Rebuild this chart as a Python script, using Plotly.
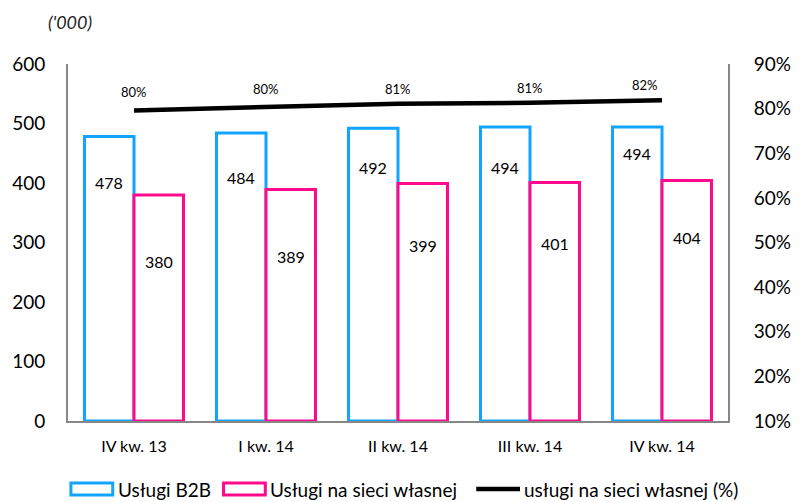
import plotly.graph_objects as go

# Quarterly data (thousands of services) and share of own-network services
quarters = ["IV kw. 13", "I kw. 14", "II kw. 14", "III kw. 14", "IV kw. 14"]
b2b = [478, 484, 492, 494, 494]
own_network = [380, 389, 399, 401, 404]
own_share_pct = [79.6, 80.4, 81.1, 81.3, 81.9]

series_names = ["Usługi B2B", "Usługi na sieci własnej",
                "usługi na sieci własnej (%)"]

# Vertical offsets (px) of value labels below the bar tops
b2b_label_drop = [46, 44, 39, 40, 26]
own_label_drop = [67, 67, 62, 61, 57]

BLUE = "#12A4FF"
PINK = "#FF0A8C"
AXIS_GREY = "#878787"
FONT = "Lato"

W, H = 803, 502
M_L, M_R, M_T, M_B = 63, 61, 64, 81
PLOT_W = W - M_L - M_R
PLOT_H = H - M_T - M_B


def px(xp):
    """Page x pixel -> paper x."""
    return (xp - M_L) / PLOT_W


def py(yp):
    """Page y pixel -> paper y."""
    return (H - M_B - yp) / PLOT_H


fig = go.Figure()

fig.add_trace(go.Bar(
    x=quarters, y=b2b, name=series_names[0],
    marker=dict(color="white", line=dict(color=BLUE, width=3)),
    offsetgroup="a", showlegend=False,
))
fig.add_trace(go.Bar(
    x=quarters, y=own_network, name=series_names[1],
    marker=dict(color="white", line=dict(color=PINK, width=3)),
    offsetgroup="b", showlegend=False,
))
fig.add_trace(go.Scatter(
    x=quarters, y=own_share_pct, name=series_names[2],
    mode="lines", line=dict(color="black", width=4.5), yaxis="y2",
    showlegend=False,
))

annotations = []
# value labels inside the bars and above the line
for i, q in enumerate(quarters):
    annotations.append(dict(
        x=q, y=b2b[i], xref="x", yref="y", text=str(b2b[i]),
        showarrow=False, xshift=-25, yshift=-b2b_label_drop[i],
        font=dict(family=FONT, size=16, color="black"),
    ))
    annotations.append(dict(
        x=q, y=own_network[i], xref="x", yref="y", text=str(own_network[i]),
        showarrow=False, xshift=25, yshift=-own_label_drop[i],
        font=dict(family=FONT, size=16, color="black"),
    ))
    annotations.append(dict(
        x=q, y=own_share_pct[i], xref="x", yref="y2",
        text=f"{own_share_pct[i]:.0f}%",
        showarrow=False, xshift=-17 if i == len(quarters) - 1 else 0,
        yshift=18 if i < 2 else 15,
        font=dict(family=FONT, size=13, color="black"),
    ))

# unit note above the left axis
annotations.append(dict(
    x=px(40), y=py(22), xref="paper", yref="paper", text="<i>('000)</i>",
    xanchor="left", yanchor="middle",
    showarrow=False, font=dict(family=FONT, size=18, color="#222"),
))

# legend drawn along the bottom edge
shapes = []
legend_y = 489
legend_items = [
    # (kind, colour, symbol x0, symbol x1, text x)
    ("rect", BLUE, 66, 109, 112),
    ("rect", PINK, 223, 266, 269),
    ("line", "black", 483, 528, 530),
]
for (kind, colour, x0, x1, tx), name in zip(legend_items, series_names):
    if kind == "rect":
        shapes.append(dict(
            type="rect", xref="paper", yref="paper",
            x0=px(x0), x1=px(x1), y0=py(legend_y + 6), y1=py(legend_y - 6),
            line=dict(color=colour, width=3), fillcolor="white",
        ))
    else:
        shapes.append(dict(
            type="line", xref="paper", yref="paper",
            x0=px(x0), x1=px(x1), y0=py(legend_y), y1=py(legend_y),
            line=dict(color=colour, width=4.5),
        ))
    annotations.append(dict(
        x=px(tx), y=py(legend_y), xref="paper", yref="paper",
        xanchor="left", yanchor="middle", text=name, showarrow=False,
        font=dict(family=FONT, size=19, color="black"),
    ))

fig.update_layout(
    width=W, height=H,
    margin=dict(l=M_L, r=M_R, t=M_T, b=M_B),
    paper_bgcolor="white", plot_bgcolor="white",
    font=dict(family=FONT, size=16, color="black"),
    barmode="group", bargap=0.25, bargroupgap=0,
    showlegend=False,
    xaxis=dict(
        showline=True, linecolor=AXIS_GREY, linewidth=2,
        showgrid=False, ticks="", ticklabelstandoff=10,
        tickfont=dict(size=16),
    ),
    yaxis=dict(
        range=[0, 600], dtick=100, showline=True, linecolor=AXIS_GREY,
        linewidth=2, showgrid=False, zeroline=False, ticks="",
        ticklabelstandoff=17, tickfont=dict(size=19),
    ),
    yaxis2=dict(
        range=[10, 90], dtick=10, ticksuffix="%", overlaying="y",
        side="right", showline=True, linecolor=AXIS_GREY, linewidth=2,
        showgrid=False, zeroline=False, ticks="",
        ticklabelstandoff=20, tickfont=dict(size=19),
    ),
    annotations=annotations,
    shapes=shapes,
)

fig.write_html("out.html")
